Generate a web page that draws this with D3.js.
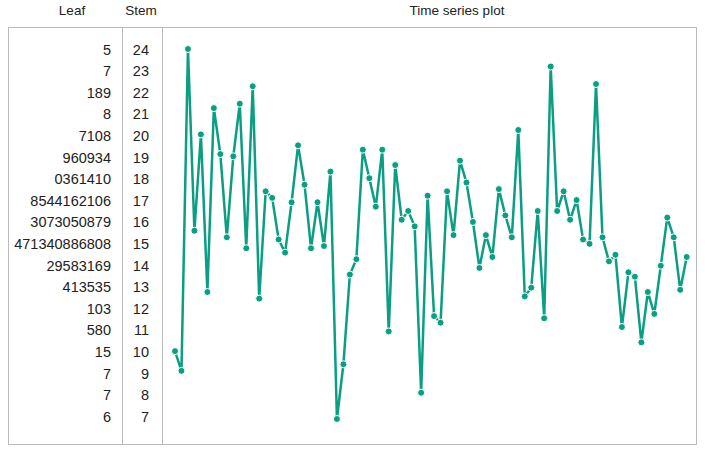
<!DOCTYPE html>
<html>
<head>
<meta charset="utf-8">
<script src="https://cdn.jsdelivr.net/npm/d3@7"></script>
<style>
  body { margin: 0; background: #fff; }
  text { font-family: "Liberation Sans", Arial, sans-serif; font-size: 14.5px; fill: #222; }
  .head { font-size: 13.5px; }
</style>
</head>
<body>
<script>
var stems = [24, 23, 22, 21, 20, 19, 18, 17, 16, 15, 14, 13, 12, 11, 10, 9, 8, 7];
var leaves = ["5", "7", "189", "8", "7108", "960934", "0361410", "8544162106", "3073050879",
              "471340886808", "29583169", "413535", "103", "580", "15", "7", "7", "6"];
var values = [10.7, 9.8, 24.5, 16.2, 20.6, 13.4, 21.8, 19.7, 15.9, 19.6,
              22.0, 15.4, 22.8, 13.1, 18.0, 17.7, 15.8, 15.2, 17.5, 20.1,
              18.3, 15.4, 17.5, 15.5, 18.9, 7.6, 10.1, 14.2, 14.9, 19.9,
              18.6, 17.3, 19.9, 11.6, 19.2, 16.7, 17.1, 16.4, 8.8, 17.8,
              12.3, 12.0, 18.0, 16.0, 19.4, 18.4, 16.6, 14.5, 16.0, 15.0,
              18.1, 16.9, 15.9, 20.8, 13.2, 13.6, 17.1, 12.2, 23.7, 17.1,
              18.0, 16.7, 17.6, 15.8, 15.6, 22.9, 15.9, 14.8, 15.1, 11.8,
              14.3, 14.1, 11.1, 13.4, 12.4, 14.6, 16.8, 15.9, 13.5, 15.0];

var width = 705, height = 459;
var svg = d3.select("body").append("svg").attr("width", width).attr("height", height);

// frame
svg.append("rect").attr("x", 8.5).attr("y", 27.5).attr("width", 688).attr("height", 417)
   .attr("fill", "none").attr("stroke", "#bbb");
svg.append("line").attr("x1", 122.5).attr("x2", 122.5).attr("y1", 27).attr("y2", 445).attr("stroke", "#bbb");
svg.append("line").attr("x1", 162.5).attr("x2", 162.5).attr("y1", 27).attr("y2", 445).attr("stroke", "#bbb");

// headers
svg.append("text").attr("class", "head").attr("x", 72).attr("y", 15).attr("text-anchor", "middle").text("Leaf");
svg.append("text").attr("class", "head").attr("x", 141).attr("y", 15).attr("text-anchor", "middle").text("Stem");
svg.append("text").attr("class", "head").attr("x", 457).attr("y", 15).attr("text-anchor", "middle").text("Time series plot");

var rowY = d3.scalePoint().domain(stems).range([49.5, 416.7]);

svg.append("g").selectAll("text").data(stems).enter().append("text")
   .attr("x", 149).attr("y", function(d) { return rowY(d); })
   .attr("dy", "0.35em").attr("text-anchor", "end").text(function(d) { return d; });

svg.append("g").selectAll("text").data(leaves).enter().append("text")
   .attr("x", 111).attr("y", function(d, i) { return rowY(stems[i]); })
   .attr("dy", "0.35em").attr("text-anchor", "end").text(function(d) { return d; });

// time series
var x = d3.scaleLinear().domain([0, values.length - 1]).range([175, 686.7]);
var y = d3.scaleLinear().domain([7.6, 24.5]).range([419, 49]);

var line = d3.line().x(function(d, i) { return x(i); }).y(function(d) { return y(d); });

svg.append("path").datum(values).attr("d", line)
   .attr("fill", "none").attr("stroke", "#0a9e82").attr("stroke-width", 2.5);

svg.append("g").selectAll("circle").data(values).enter().append("circle")
   .attr("cx", function(d, i) { return x(i); })
   .attr("cy", function(d) { return y(d); })
   .attr("r", 3.5).attr("fill", "#0a9e82")
   .attr("stroke", "#fff").attr("stroke-width", 1);
</script>
</body>
</html>
